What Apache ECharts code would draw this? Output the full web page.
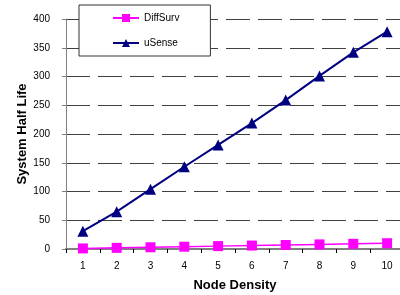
<!DOCTYPE html>
<html>
<head>
<meta charset="utf-8">
<script src="https://cdn.jsdelivr.net/npm/echarts@6/dist/echarts.min.js"></script>
<style>html,body{margin:0;padding:0;background:#fff;}#c{width:400px;height:295px;}</style>
</head>
<body>
<div id="c"></div>
<script>
var categories = ['1','2','3','4','5','6','7','8','9','10'];
var diffSurv = [1, 2, 3, 4, 5, 6, 7, 8, 9, 10];
var uSense = [31, 65, 104, 143, 181, 219, 259, 301, 342, 378];
var yTicks = [0, 50, 100, 150, 200, 250, 300, 350, 400];

var chart = echarts.init(document.getElementById('c'), null, {renderer: 'canvas'});
var font = 'Arial, "Liberation Sans", sans-serif';
chart.setOption({
  animation: false,
  backgroundColor: '#fff',
  grid: {left: 66, right: -4, top: 19, bottom: 46, containLabel: false, outerBoundsMode: 'none'},
  legend: {
    orient: 'vertical', left: 79, top: 5,
    padding: [8, 31, 8, 33], itemGap: 15,
    itemWidth: 26, itemHeight: 10,
    backgroundColor: '#fff', borderColor: '#333', borderWidth: 1,
    textStyle: {fontFamily: font, fontSize: 10, color: '#000'},
    data: ['DiffSurv', 'uSense']
  },
  xAxis: {
    type: 'category', data: categories, boundaryGap: true,
    name: 'Node Density', nameLocation: 'middle', nameGap: 30,
    nameTextStyle: {fontFamily: font, fontSize: 13, fontWeight: 'bold', color: '#000'},
    axisLine: {lineStyle: {color: '#808080', width: 2}},
    axisTick: {show: true, length: 4, lineStyle: {color: '#000'}},
    axisLabel: {fontFamily: font, fontSize: 10, color: '#000', margin: 12}
  },
  yAxis: {
    type: 'value', min: yTicks[0], max: yTicks[yTicks.length-1], interval: 50,
    name: 'System Half Life', nameLocation: 'middle', nameGap: 37, nameMoveOverlap: false,
    nameTextStyle: {fontFamily: font, fontSize: 13, fontWeight: 'bold', color: '#000'},
    axisLine: {show: true, lineStyle: {color: '#808080', width: 1}},
    axisTick: {show: true, length: 4, lineStyle: {color: '#808080'}},
    axisLabel: {fontFamily: font, fontSize: 10, color: '#000', margin: 16},
    splitLine: {show: true, lineStyle: {color: '#404040', width: 1, type: [24, 8]}}
  },
  series: [
    {name: 'DiffSurv', type: 'line', data: diffSurv, symbol: 'rect', symbolSize: 10,
     itemStyle: {color: '#FF00FF'}, lineStyle: {color: '#FF00FF', width: 1.5}, z: 3},
    {name: 'uSense', type: 'line', data: uSense, symbol: 'triangle', symbolSize: 11,
     itemStyle: {color: '#000080'}, lineStyle: {color: '#000080', width: 2}, z: 4}
  ]
});
</script>
</body>
</html>
